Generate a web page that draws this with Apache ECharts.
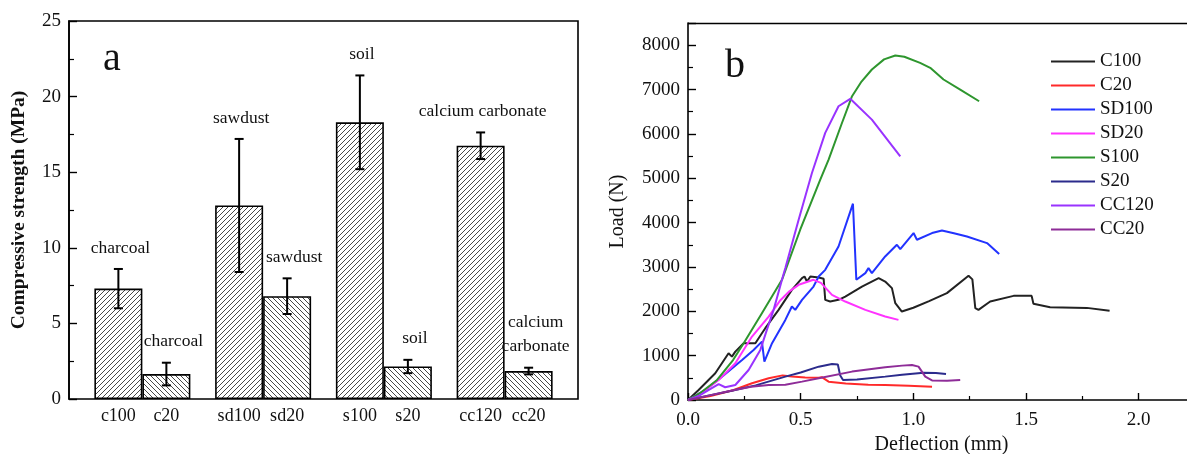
<!DOCTYPE html>
<html>
<head>
<meta charset="utf-8">
<script src="https://cdn.jsdelivr.net/npm/echarts@6/dist/echarts.min.js"></script>
<style>
html, body { margin: 0; padding: 0; background: #fff; }
#chart { width: 1187px; height: 454px; }
</style>
</head>
<body>
<div id="chart"></div>
<script>
// panel a: compressive strength
var groups = ['charcoal', 'sawdust', 'soil', 'calcium carbonate'];
var names100 = ['c100', 'sd100', 's100', 'cc120'];
var names20 = ['c20', 'sd20', 's20', 'cc20'];
var strength100 = [7.3, 12.8, 18.3, 16.75];
var err100 = [1.3, 4.4, 3.1, 0.88];
var strength20 = [1.65, 6.8, 2.15, 1.85];
var err20 = [0.75, 1.18, 0.44, 0.22];
var labels100 = ['charcoal', 'sawdust', 'soil', 'calcium carbonate'];
var labels20 = ['charcoal', 'sawdust', 'soil', 'calcium\ncarbonate'];

// panel b: load vs deflection [mm, N]
var C100 = [[0,0],[0.047,226],[0.121,602],[0.18,1054],[0.195,978],[0.21,1091],[0.247,1280],[0.299,1280],[0.328,1506],[0.343,1619],[0.402,2032],[0.461,2484],[0.506,2748],[0.517,2784],[0.528,2671],[0.543,2784],[0.58,2760],[0.602,2732],[0.609,2258],[0.631,2220],[0.668,2258],[0.698,2333],[0.772,2558],[0.846,2748],[0.875,2671],[0.905,2522],[0.92,2183],[0.949,1994],[1.0,2080],[1.07,2230],[1.149,2409],[1.245,2800],[1.262,2720],[1.275,2070],[1.289,2032],[1.341,2220],[1.445,2348],[1.525,2348],[1.533,2168],[1.607,2093],[1.77,2077],[1.871,2010]];
var C20 = [[0,0],[0.1,90],[0.2,220],[0.284,377],[0.358,490],[0.42,555],[0.461,530],[0.52,505],[0.58,500],[0.594,515],[0.624,414],[0.7,370],[0.8,345],[0.875,339],[0.98,320],[1.083,301]];
var SD100 = [[0,0],[0.077,226],[0.151,527],[0.24,903],[0.291,1129],[0.328,1317],[0.339,865],[0.373,1280],[0.432,1806],[0.461,2107],[0.476,2032],[0.506,2258],[0.557,2558],[0.58,2784],[0.609,2935],[0.668,3462],[0.732,4426],[0.747,2710],[0.787,2861],[0.801,2974],[0.816,2861],[0.875,3236],[0.927,3500],[0.942,3400],[1.001,3764],[1.016,3613],[1.083,3764],[1.127,3823],[1.18,3760],[1.238,3688],[1.327,3538],[1.381,3290]];
var SD20 = [[0,0],[0.07,200],[0.136,452],[0.21,828],[0.284,1430],[0.358,1881],[0.41,2250],[0.45,2450],[0.491,2597],[0.557,2710],[0.59,2640],[0.639,2371],[0.698,2220],[0.787,2032],[0.875,1881],[0.934,1806]];
var S100 = [[0,0],[0.06,180],[0.129,452],[0.2,900],[0.247,1280],[0.328,1958],[0.417,2710],[0.498,3839],[0.587,4968],[0.624,5419],[0.68,6200],[0.728,6849],[0.77,7180],[0.816,7451],[0.87,7680],[0.92,7768],[0.96,7740],[1.03,7600],[1.075,7490],[1.134,7226],[1.208,7000],[1.292,6736]];
var S20 = [[0,0],[0.1,110],[0.2,215],[0.3,330],[0.432,527],[0.5,620],[0.58,752],[0.639,813],[0.665,800],[0.675,560],[0.688,452],[0.75,460],[0.875,527],[0.95,570],[1.045,617],[1.1,610],[1.145,587]];
var CC120 = [[0,0],[0.05,100],[0.1,250],[0.136,360],[0.165,287],[0.21,339],[0.269,677],[0.321,1129],[0.35,1581],[0.38,2032],[0.417,2710],[0.432,2974],[0.491,4064],[0.55,5119],[0.609,6022],[0.668,6623],[0.72,6790],[0.816,6322],[0.942,5494]];
var CC20 = [[0,0],[0.1,110],[0.2,220],[0.28,300],[0.358,339],[0.432,345],[0.506,414],[0.58,490],[0.728,640],[0.875,738],[0.95,775],[0.994,790],[1.023,752],[1.053,527],[1.083,440],[1.15,436],[1.208,450]];

var lineNames = ['C100', 'C20', 'SD100', 'SD20', 'S100', 'S20', 'CC120', 'CC20'];
var lineData = [C100, C20, SD100, SD20, S100, S20, CC120, CC20];
var lineColors = ['#222222', '#ff2a2a', '#2233ff', '#ff33ff', '#2e962e', '#2b2b8c', '#9933ff', '#8e2c98'];

var font = '"Liberation Serif", "Times New Roman", serif';
var barW = 48;

function hatch(dir) {
    var s = 5;
    var c = document.createElement('canvas');
    c.width = s; c.height = s;
    var ctx = c.getContext('2d');
    ctx.fillStyle = '#fff';
    ctx.fillRect(0, 0, s, s);
    ctx.strokeStyle = '#333';
    ctx.lineWidth = 0.9;
    ctx.beginPath();
    if (dir > 0) {
        ctx.moveTo(-1, s + 1); ctx.lineTo(s + 1, -1);
        ctx.moveTo(-1, 1); ctx.lineTo(1, -1);
        ctx.moveTo(s - 1, s + 1); ctx.lineTo(s + 1, s - 1);
    } else {
        ctx.moveTo(-1, -1); ctx.lineTo(s + 1, s + 1);
        ctx.moveTo(s - 1, -1); ctx.lineTo(s + 1, 1);
        ctx.moveTo(-1, s - 1); ctx.lineTo(1, s + 1);
    }
    ctx.stroke();
    return c;
}

var errData = [];
for (var i = 0; i < groups.length; i++) {
    errData.push([i, strength100[i], err100[i], -1]);
    errData.push([i, strength20[i], err20[i], 1]);
}

function renderErr(params, api) {
    var g = api.value(0), v = api.value(1), e = api.value(2), side = api.value(3);
    var x = api.coord([g, 0])[0] + side * barW / 2;
    var top = api.coord([g, v + e])[1];
    var bot = api.coord([g, v - e])[1];
    var txt = side < 0 ? labels100[g] : labels20[g];
    var st = { stroke: '#000', lineWidth: 2 };
    return {
        type: 'group',
        children: [
            { type: 'line', shape: { x1: x, y1: top, x2: x, y2: bot }, style: st },
            { type: 'line', shape: { x1: x - 4.5, y1: top, x2: x + 4.5, y2: top }, style: st },
            { type: 'line', shape: { x1: x - 4.5, y1: bot, x2: x + 4.5, y2: bot }, style: st },
            { type: 'text', style: {
                text: txt, x: x + (side > 0 ? 7 : 2), y: top - 9,
                align: 'center', verticalAlign: 'bottom',
                fontSize: 17.5, fontFamily: font, fill: '#111', lineHeight: 24
            } }
        ]
    };
}

var series = [
    {
        name: '100', type: 'bar', xAxisIndex: 1, yAxisIndex: 1,
        barWidth: barW, barGap: '0%',
        itemStyle: { color: { image: hatch(1), repeat: 'repeat' }, borderColor: '#000', borderWidth: 1.6 },
        data: strength100
    },
    {
        name: '20', type: 'bar', xAxisIndex: 1, yAxisIndex: 1,
        barWidth: barW, barGap: '0%',
        itemStyle: { color: { image: hatch(-1), repeat: 'repeat' }, borderColor: '#000', borderWidth: 1.6 },
        data: strength20
    },
    {
        type: 'custom', xAxisIndex: 1, yAxisIndex: 1, z: 5,
        renderItem: renderErr, encode: { x: 0, y: 1 },
        data: errData
    }
];
for (var k = 0; k < lineNames.length; k++) {
    series.push({
        name: lineNames[k], type: 'line', xAxisIndex: 2, yAxisIndex: 2,
        showSymbol: false, color: lineColors[k],
        lineStyle: { width: 2, color: lineColors[k] },
        data: lineData[k]
    });
}

var axisText = { color: '#111', fontFamily: font, fontSize: 19 };

var option = {
    animation: false,
    backgroundColor: '#fff',
    textStyle: { fontFamily: font },
    grid: [
        { left: 69, top: 21, width: 509, height: 378, outerBoundsMode: 'none', show: true, borderColor: '#000', borderWidth: 1.6, backgroundColor: 'transparent' },
        { left: 82, top: 21, width: 483, height: 378, outerBoundsMode: 'none' },
        { left: 688, top: 23, width: 507, height: 377, outerBoundsMode: 'none' }
    ],
    xAxis: [
        { gridIndex: 0, type: 'value', show: false },
        {
            gridIndex: 1, type: 'category', data: groups,
            axisLine: { show: false }, axisTick: { show: false },
            axisLabel: {
                margin: 8,
                formatter: function (v, i) { return '{n|' + names100[i] + '}{n|' + names20[i] + '}'; },
                rich: { n: { width: barW, align: 'center', fontSize: 18, fontFamily: font, color: '#111' } }
            }
        },
        {
            gridIndex: 2, type: 'value', min: 0, max: 2.25, interval: 0.5,
            name: 'Deflection (mm)', nameLocation: 'middle', nameGap: 33,
            nameTextStyle: { fontSize: 20, fontFamily: font, color: '#111' },
            axisLine: { lineStyle: { color: '#000', width: 1.6 } },
            axisTick: { inside: true, length: 7, lineStyle: { color: '#000', width: 1.4 } },
            minorTick: { show: true, splitNumber: 2, length: 4, lineStyle: { color: '#000', width: 1.2 } },
            splitLine: { show: false },
            axisLabel: Object.assign({ margin: 11, showMaxLabel: false, formatter: function (v) { return v.toFixed(1); } }, axisText)
        }
    ],
    yAxis: [
        {
            gridIndex: 0, type: 'value', min: 0, max: 25, interval: 5,
            name: 'Compressive strength (MPa)', nameLocation: 'middle', nameGap: 40,
            nameTextStyle: { fontSize: 19.5, fontWeight: 'bold', fontFamily: font, color: '#111' },
            axisLine: { show: true, lineStyle: { color: '#000', width: 1.6 } },
            axisTick: { inside: true, length: 8, lineStyle: { color: '#000', width: 1.4 } },
            minorTick: { show: true, splitNumber: 2, length: 5, lineStyle: { color: '#000', width: 1.2 } },
            splitLine: { show: false },
            axisLabel: Object.assign({ margin: 8 }, axisText)
        },
        { gridIndex: 1, type: 'value', min: 0, max: 25, show: false },
        {
            gridIndex: 2, type: 'value', min: 0, max: 8500, interval: 1000,
            name: 'Load (N)', nameLocation: 'middle', nameGap: 60,
            nameTextStyle: { fontSize: 20, fontFamily: font, color: '#111' },
            axisLine: { show: true, lineStyle: { color: '#000', width: 1.6 } },
            axisTick: { inside: true, length: 8, lineStyle: { color: '#000', width: 1.4 } },
            minorTick: { show: true, splitNumber: 2, length: 5, lineStyle: { color: '#000', width: 1.2 } },
            splitLine: { show: false },
            axisLabel: Object.assign({ margin: 8, showMaxLabel: false, formatter: function (v) { return String(v); } }, axisText)
        }
    ],
    legend: {
        data: lineNames, orient: 'vertical', left: 1046, top: 47,
        icon: 'rect', itemWidth: 44, itemHeight: 2, itemGap: 5,
        textStyle: { fontSize: 19, fontFamily: font, color: '#111', lineHeight: 19 }
    },
    graphic: [
        { type: 'text', left: 103, top: 39, style: { text: 'a', fontSize: 40, fontFamily: font, fill: '#111' } },
        { type: 'line', shape: { x1: 688, y1: 23.5, x2: 1187, y2: 23.5 }, style: { stroke: '#000', lineWidth: 1.6 } },
        { type: 'text', left: 725, top: 46, style: { text: 'b', fontSize: 40, fontFamily: font, fill: '#111' } }
    ],
    series: series
};

var myChart = echarts.init(document.getElementById('chart'));
myChart.setOption(option);
</script>
</body>
</html>
